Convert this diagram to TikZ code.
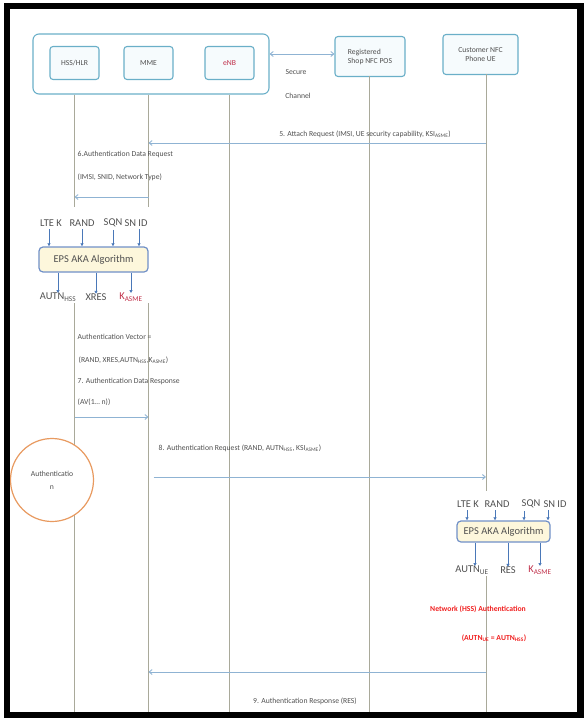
\documentclass[tikz,border=0pt]{standalone}
\usepackage{fontspec}
\setmainfont{Carlito}
\usetikzlibrary{arrows.meta}

\definecolor{boxline}{HTML}{6AAFC8}
\definecolor{boxfill}{HTML}{F6FBFD}
\definecolor{lifeline}{HTML}{A9A99A}
\definecolor{msgline}{HTML}{8FB3D3}
\definecolor{algline}{HTML}{7090C8}
\definecolor{algfill}{HTML}{FDF7DC}
\definecolor{algarrow}{HTML}{4A78B8}
\definecolor{keyred}{HTML}{C0304A}
\definecolor{alertred}{HTML}{F02020}
\definecolor{circleline}{HTML}{E89A60}
\definecolor{txt}{HTML}{505050}

\newcommand\smallfont{\fontsize{7.7}{9}\selectfont}
\newcommand\bigfont{\fontsize{10.5}{12}\selectfont}

\begin{document}
\begin{tikzpicture}[x=1bp,y=-1bp,
  entity/.style={draw=boxline, fill=boxfill, line width=1.1bp, rounded corners=3bp,
                 font=\smallfont, text=txt, align=center, inner sep=1bp},
  groupbox/.style={draw=boxline, line width=1.1bp, rounded corners=6bp, inner sep=0pt},
  life/.style={draw=lifeline, line width=0.7bp},
  msg/.style={draw=msgline, line width=0.9bp, -{Straight Barb[length=3bp,width=5bp]}},
  lbl/.style={font=\smallfont, text=txt, inner sep=0.5bp},
  redlbl/.style={font=\smallfont\bfseries, text=alertred, inner sep=0.5bp},
  algbox/.style={draw=algline, fill=algfill, line width=1.2bp, rounded corners=4bp,
                 font=\bigfont, text=txt, inner sep=0pt},
  algin/.style={font=\bigfont, text=txt, inner sep=0.5bp},
  algar/.style={draw=algarrow, line width=0.8bp, -{Latex[length=3bp,width=3.5bp]}},
]
\useasboundingbox (0,0) rectangle (584,721);

% ---- participants ----
\node[groupbox, minimum width=236bp, minimum height=60bp] (grp) at (151,64) {};
\node[entity, minimum width=49bp, minimum height=33bp] (hss) at (74.5,63) {HSS/HLR};
\node[entity, minimum width=49bp, minimum height=33bp] (mme) at (148.5,63) {MME};
\node[entity, minimum width=49bp, minimum height=33bp, text=keyred] (enb) at (229.5,63) {eNB};
\node[entity, minimum width=70bp, minimum height=40bp, align=left] (pos) at (370,56.5) {Registered\\Shop NFC POS};
\node[entity, minimum width=75bp, minimum height=40bp] (ue) at (480.5,54.5) {Customer NFC\\Phone UE};

\draw[draw=msgline, line width=0.9bp, {Straight Barb[length=3bp,width=5bp]}-{Straight Barb[length=3bp,width=5bp]}]
  (grp.east |- 0,54) -- (pos.west |- 0,54);
\node[lbl] (sec) at (296,72) {Secure};
\node[lbl] (chan) at (298,96) {Channel};

% ---- lifelines ----
\coordinate (bot) at (0,713);
\coordinate (Lhss) at (hss.south |- grp.south);
\coordinate (Lmme) at (mme.south |- grp.south);
\coordinate (Lenb) at (enb.south |- grp.south);
\coordinate (Lpos) at (369,76.5);
\coordinate (Lue) at (486,74.5);
\draw[life] (Lhss) -- (Lhss |- 0,207);
\draw[life] (Lhss |- 0,303) -- (Lhss |- bot);
\draw[life] (Lmme) -- (Lmme |- 0,207);
\draw[life] (Lmme |- 0,303) -- (Lmme |- bot);
\draw[life] (Lenb) -- (Lenb |- bot);
\draw[life] (Lpos) -- (Lpos |- bot);
\draw[life] (Lue) -- (Lue |- 0,491);
\draw[life] (Lue |- 0,576) -- (Lue |- bot);

% ---- messages ----
\draw[msg] (Lue |- 0,143) -- (Lmme |- 0,143);
\node[lbl] (m5) at (365,134) {5. Attach Request (IMSI, UE security capability, KSI\textsubscript{ASME})};

\node[lbl, anchor=west] (m6a) at (77,154) {6.Authentication Data Request};
\node[lbl, anchor=west] (m6b) at (77,177) {(IMSI, SNID, Network Type)};
\draw[msg] (Lmme |- 0,197) -- (Lhss |- 0,197);

% ---- HSS side EPS AKA ----
\node[algbox, minimum width=109bp, minimum height=25bp] (alg1) at (93.5,259.5) {EPS AKA Algorithm};
\node[algin] (i1) at (51,223) {LTE K};
\node[algin] (i2) at (82,223) {RAND};
\node[algin] (i3) at (113,223) {SQN};
\node[algin] (i4) at (136,223) {SN ID};
\foreach \n/\dx in {i1/-2,i2/0,i3/0,i4/3}
  \draw[algar] ([xshift=\dx bp, yshift=-2bp]\n.south) -- ([xshift=\dx bp]\n.south |- alg1.north);
\node[algin] (o1) at (58,297) {AUTN\textsubscript{HSS}};
\node[algin] (o2) at (96,297) {XRES};
\node[algin, text=keyred] (o3) at (131,297) {K\textsubscript{ASME}};
\foreach \n in {o1,o2,o3}
  \draw[algar] (alg1.south -| \n.north) -- ([yshift=-1bp]\n.north);

\node[lbl, anchor=west] (av1) at (77,337) {Authentication Vector =};
\node[lbl, anchor=west] (av2) at (78,360) {(RAND, XRES,AUTN\textsubscript{HSS},K\textsubscript{ASME})};
\node[lbl, anchor=west] (m7a) at (77,381) {7. Authentication Data Response};
\node[lbl, anchor=west] (m7b) at (77,402) {(AV(1… n))};
\draw[msg] (Lhss |- 0,417) -- (Lmme |- 0,417);

% ---- authentication request ----
\node[draw=circleline, fill=white, circle, minimum size=83bp, line width=1.2bp,
      font=\smallfont, text=txt, align=center] (auth) at (52,480) {Authenticatio\\[4bp]n};
\node[lbl, anchor=west] (m8) at (158,448) {8. Authentication Request (RAND, AUTN\textsubscript{HSS}, KSI\textsubscript{ASME})};
\draw[msg] ([xshift=5bp]Lmme |- 0,477) -- (Lue |- 0,477);

% ---- UE side EPS AKA ----
\node[algbox, minimum width=93bp, minimum height=21bp] (alg2) at (503.5,531.5) {EPS AKA Algorithm};
\node[algin] (j1) at (468,504) {LTE K};
\node[algin] (j2) at (497,504) {RAND};
\node[algin] (j3) at (531,504) {SQN};
\node[algin] (j4) at (555,504) {SN ID};
\foreach \n/\dx in {j1/-1,j2/-2,j3/-7,j4/-7}
  \draw[algar] ([xshift=\dx bp, yshift=-2bp]\n.south) -- ([xshift=\dx bp]\n.south |- alg2.north);
\node[algin] (p1) at (472,570) {AUTN\textsubscript{UE}};
\node[algin] (p2) at (508,570) {RES};
\node[algin, text=keyred] (p3) at (540,570) {K\textsubscript{ASME}};
\foreach \n/\dx in {p1/3,p2/0,p3/0}
  \draw[algar] ([xshift=\dx bp]alg2.south -| \n.north) -- ([xshift=\dx bp, yshift=-1bp]\n.north);

\node[redlbl] (net) at (478,609) {Network (HSS) Authentication};
\node[redlbl] (cmp) at (494,638) {(AUTN\textsubscript{UE} = AUTN\textsubscript{HSS})};

% ---- authentication response ----
\draw[msg] (Lue |- 0,672) -- (Lmme |- 0,672);
\node[lbl] (m9) at (305,701) {9. Authentication Response (RES)};

% ---- outer frame ----
\draw[line width=6.5bp] (7,6) rectangle (580.5,715);
\end{tikzpicture}
\end{document}
